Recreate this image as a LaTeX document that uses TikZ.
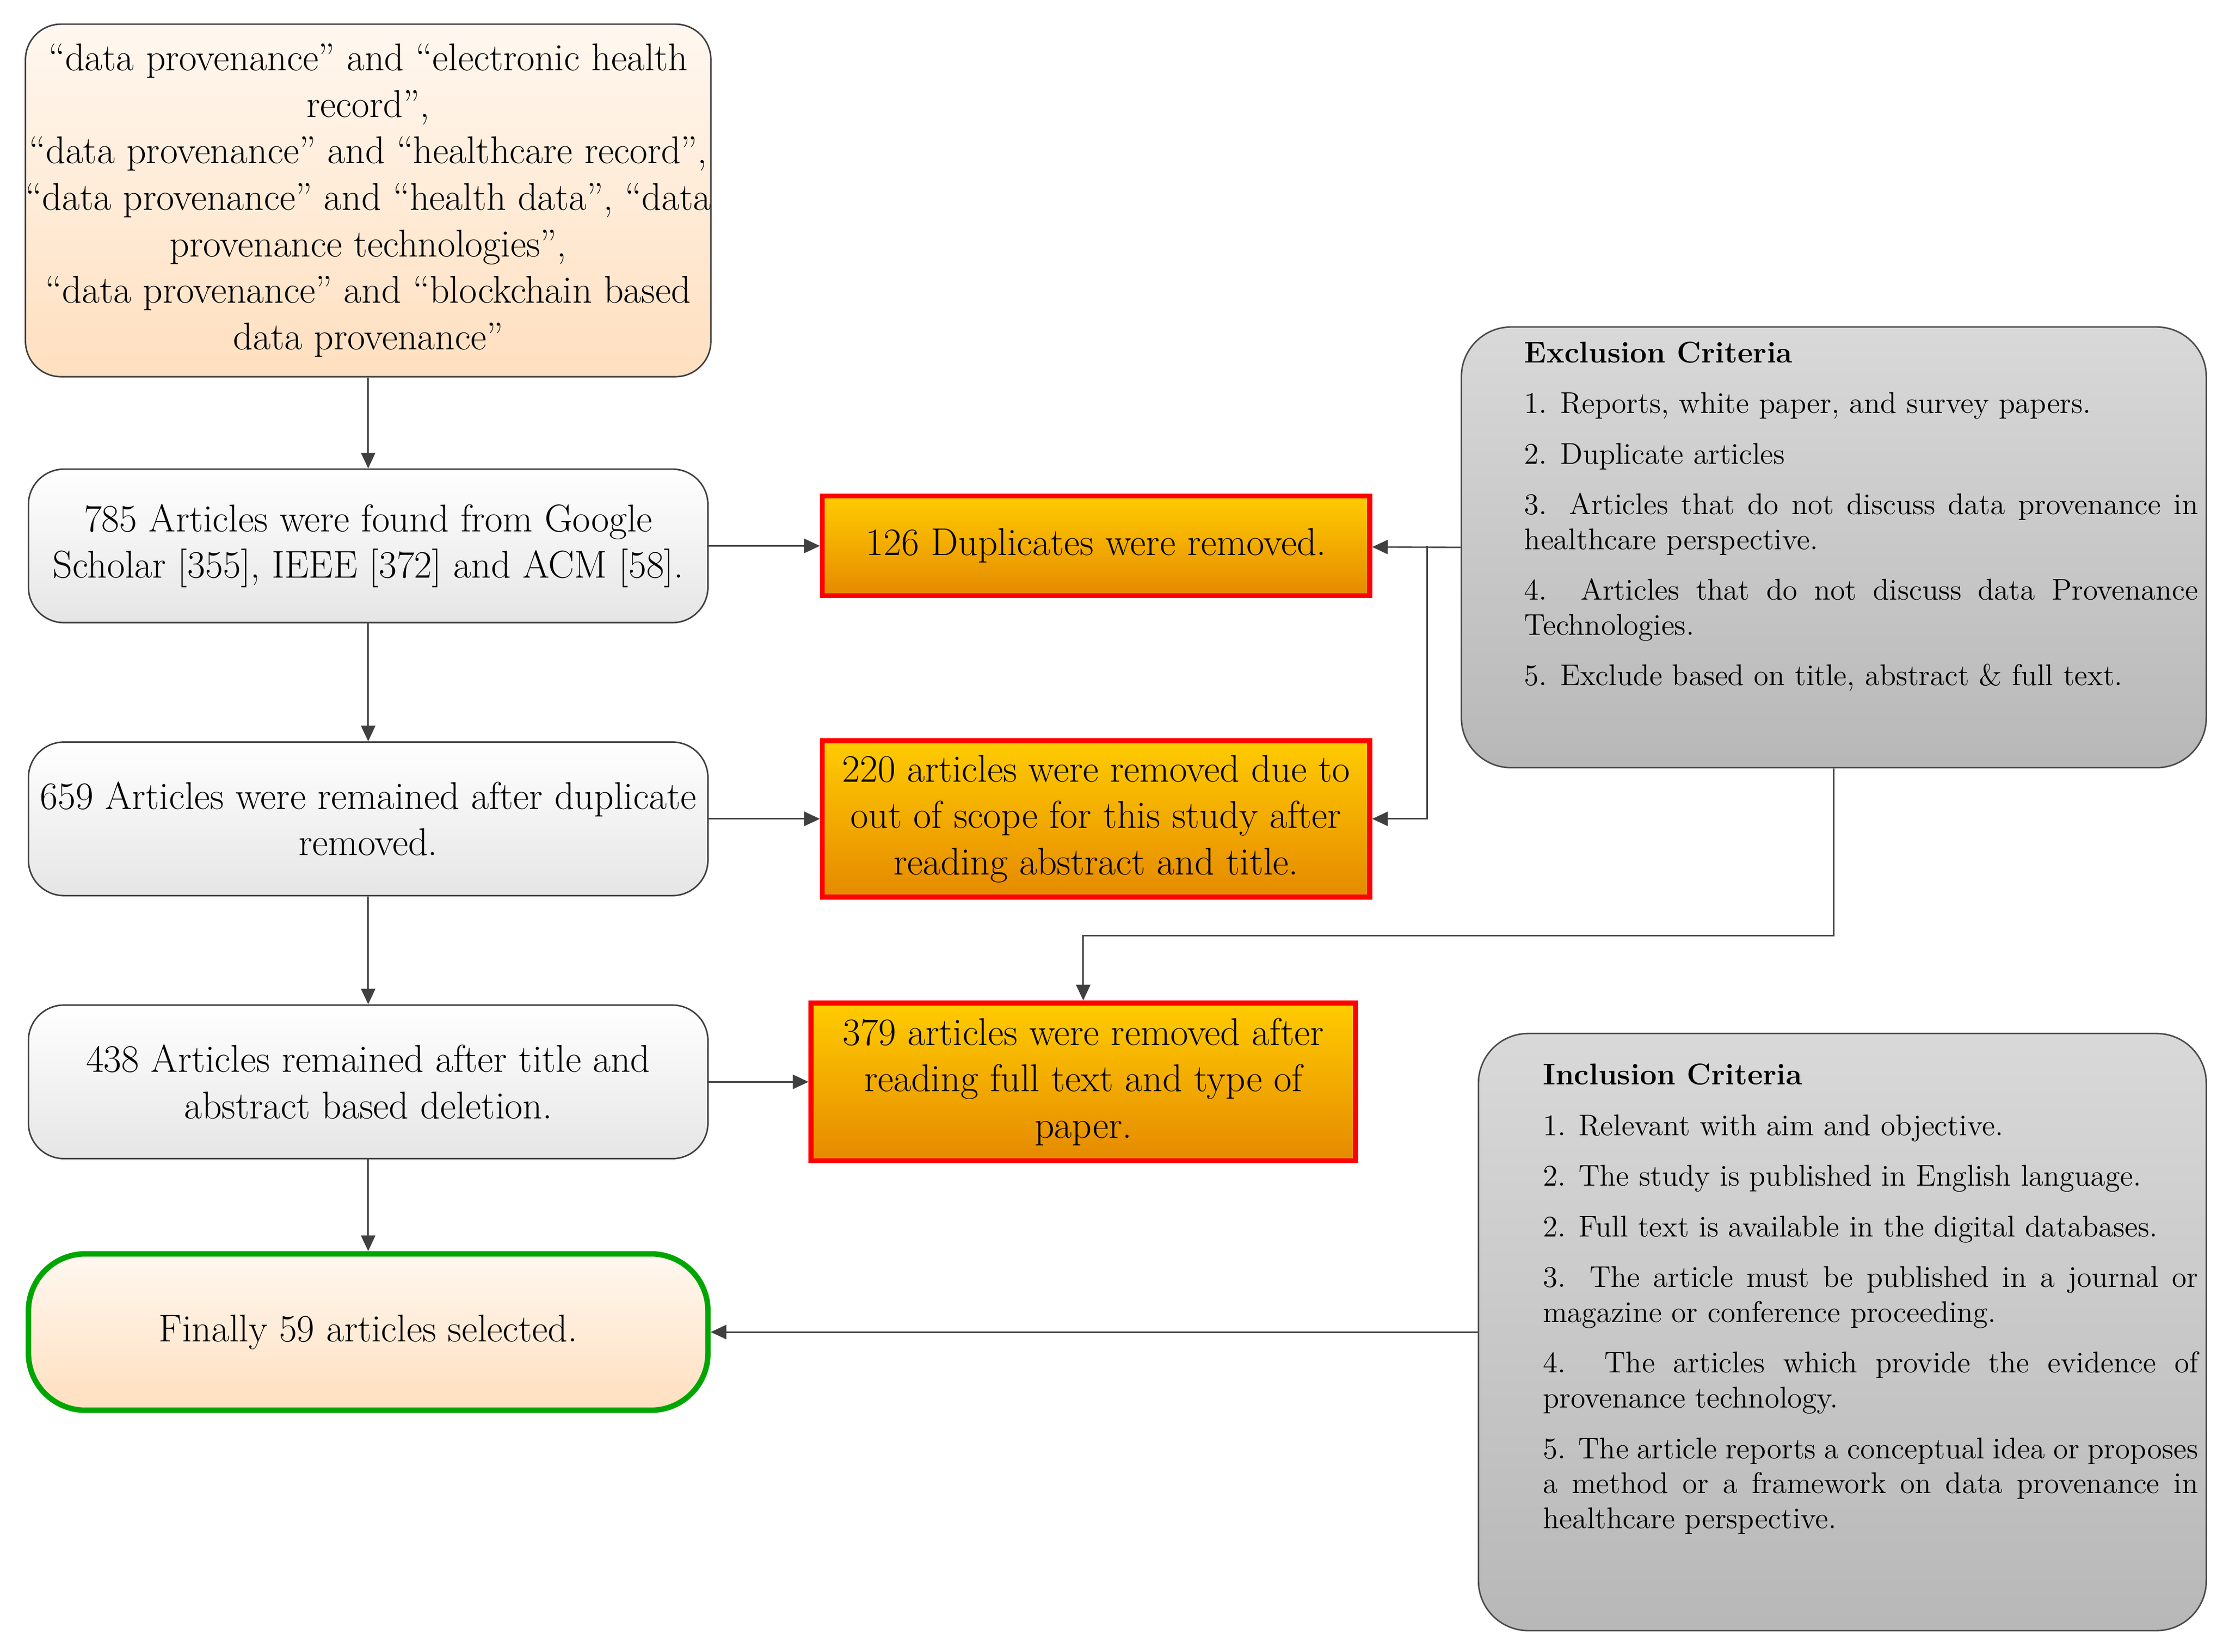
\documentclass[tikz,border=0pt]{standalone}
\usetikzlibrary{arrows.meta}
\begin{document}
\begin{tikzpicture}[x=0.2mm,y=-0.2mm,
 every node/.style={inner sep=0pt},
 box/.style={draw=black!75,line width=0.6pt,rounded corners=5mm,align=center,font=\fontsize{15.5}{18.6}\selectfont},
 peach/.style={box,top color=white!60!orange!15,bottom color=orange!25!white},
 grayb/.style={box,top color=white,bottom color=black!10},
 red/.style={draw=red,line width=2pt,align=center,top color=orange!40!yellow,bottom color=orange!80!yellow!90!black,font=\fontsize{15.5}{18.6}\selectfont},
 crit/.style={draw=black!70,line width=0.6pt,rounded corners=7mm,top color=black!15,bottom color=black!28},
 ctext/.style={align=justify,font=\fontsize{12}{14}\selectfont,anchor=north west},
 arr/.style={-{Triangle[length=2.2mm,width=2mm]},draw=black!75,line width=0.6pt}]
\useasboundingbox (0,0) rectangle (1568,1162);
\node[peach,minimum width=478*0.2mm,minimum height=248*0.2mm] (b1) at (259,141) {``data provenance'' and ``electronic health\\record'',\\``data provenance'' and ``healthcare record'',\\``data provenance'' and ``health data'', ``data\\provenance technologies'',\\``data provenance'' and ``blockchain based\\data provenance''};
\node[grayb,minimum width=478*0.2mm,minimum height=108*0.2mm] (b2) at (259,384) {785 Articles were found from Google\\Scholar [355], IEEE [372] and ACM [58].};
\node[grayb,minimum width=478*0.2mm,minimum height=108*0.2mm] (b3) at (259,576) {659 Articles were remained after duplicate\\removed.};
\node[grayb,minimum width=478*0.2mm,minimum height=108*0.2mm] (b4) at (259,761) {438 Articles remained after title and\\abstract based deletion.};
\node[peach,draw=green!65!black,line width=2.2pt,rounded corners=8mm,minimum width=478*0.2mm,minimum height=110*0.2mm] (b5) at (259,937) {Finally 59 articles selected.};
\node[red,minimum width=385*0.2mm,minimum height=70*0.2mm] (r1) at (771,384) {126 Duplicates were removed.};
\node[red,minimum width=385*0.2mm,minimum height=110*0.2mm] (r2) at (771,576) {220 articles were removed due to\\out of scope for this study after\\reading abstract and title.};
\node[red,minimum width=383*0.2mm,minimum height=111*0.2mm] (r3) at (762,761) {379 articles were removed after\\reading full text and type of\\paper.};
\node[crit,minimum width=524*0.2mm,minimum height=310*0.2mm] (ex) at (1290,385) {};
\node[ctext,text width=474*0.2mm] at (1072,240) {\textbf{Exclusion Criteria}\\[2.2mm]
1. Reports, white paper, and survey papers.\\[2.2mm]
2. Duplicate articles\\[2.2mm]
3. Articles that do not discuss data provenance in healthcare perspective.\\[2.2mm]
4. Articles that do not discuss data Provenance Technologies.\\[2.2mm]
5. Exclude based on title, abstract \& full text.\\};
\node[crit,minimum width=512*0.2mm,minimum height=420*0.2mm] (in) at (1296,937) {};
\node[ctext,text width=461*0.2mm] at (1085,748) {\textbf{Inclusion Criteria}\\[2.2mm]
1. Relevant with aim and objective.\\[2.2mm]
2. The study is published in English language.\\[2.2mm]
2. Full text is available in the digital databases.\\[2.2mm]
3. The article must be published in a journal or magazine or conference proceeding.\\[2.2mm]
4. The articles which provide the evidence of provenance technology.\\[2.2mm]
5. The article reports a conceptual idea or proposes a method or a framework on data provenance in healthcare perspective.\\};
\coordinate (j) at (1004,384);
\draw[arr] (b1) -- (b2);
\draw[arr] (b2) -- (b3);
\draw[arr] (b3) -- (b4);
\draw[arr] (b4) -- (b5);
\draw[arr] (b2) -- (r1);
\draw[arr] (b3) -- (r2);
\draw[arr] (b4) -- (r3);
\draw[arr] (ex.west) -- (r1);
\draw[arr] (j) |- (r2);
\draw[arr] (ex.south) |- (762,658) -- (r3);
\draw[arr] (in.west) -- (b5);
\end{tikzpicture}
\end{document}
